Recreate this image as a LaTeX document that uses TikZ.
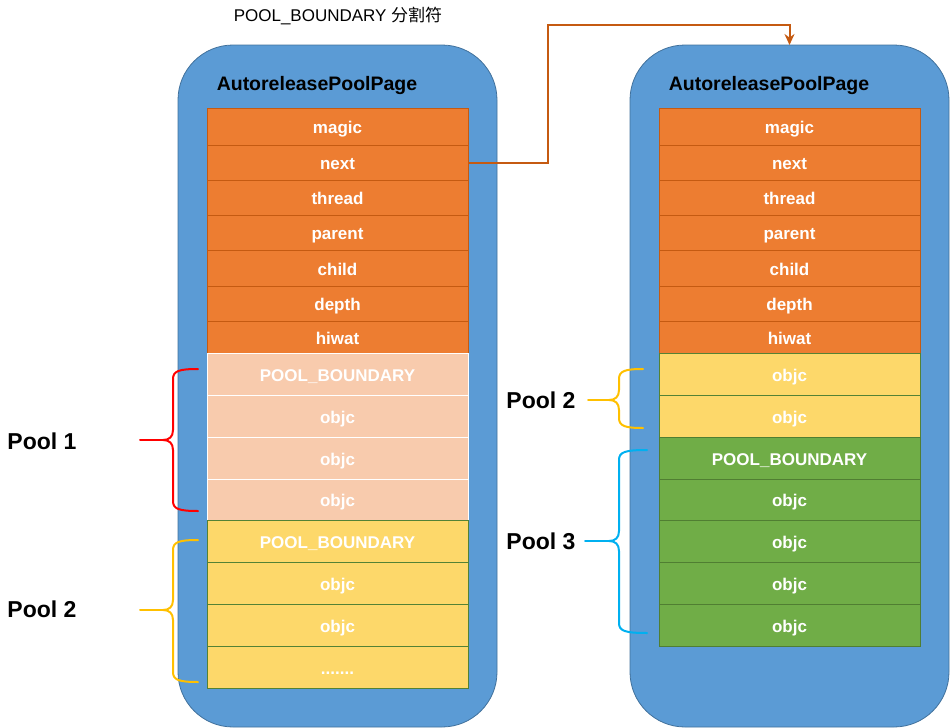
\documentclass[tikz,border=0pt]{standalone}
\usepackage{fontspec}
\setmainfont{Liberation Sans}
\newfontfamily\cjk{Noto Sans CJK SC}
\usetikzlibrary{arrows.meta,calc}
\definecolor{pageblue}{HTML}{5B9BD5}
\definecolor{pageedge}{HTML}{41719C}
\definecolor{corange}{HTML}{ED7D31}
\definecolor{corangeedge}{HTML}{C55A11}
\definecolor{cpeach}{HTML}{F8CBAD}
\definecolor{cyellow}{HTML}{FDD86A}
\definecolor{cyellowedge}{HTML}{548235}
\definecolor{cgreen}{HTML}{70AD47}
\definecolor{cgreenedge}{HTML}{507E32}
\definecolor{linkc}{HTML}{C55A11}
\definecolor{bred}{HTML}{FF0000}
\definecolor{byellow}{HTML}{FFC000}
\definecolor{bcyan}{HTML}{00B0F0}
\newcommand\mydots{.......}
\tikzset{
  page/.style={draw=pageedge,line width=0.8pt,fill=pageblue,rounded corners=55pt,minimum width=319pt,minimum height=682pt,inner sep=0pt,outer sep=0pt},
  cell/.style={minimum width=261pt,inner sep=0pt,outer sep=0pt,line width=0.8pt,text=white,text height=15.5pt,text depth=1.5pt,font=\fontsize{17}{20}\selectfont\bfseries},
  orangecell/.style={cell,fill=corange,draw=corangeedge},
  peachcell/.style={cell,fill=cpeach,draw=white},
  yellowcell/.style={cell,fill=cyellow,draw=cyellowedge},
  greencell/.style={cell,fill=cgreen,draw=cgreenedge},
  title/.style={font=\fontsize{19.5}{22}\selectfont\bfseries,inner sep=0pt},
  poollabel/.style={font=\fontsize{23}{26}\selectfont\bfseries,inner sep=0pt},
  brace/.style={line width=2pt,line cap=round,line join=round},
  link/.style={draw=linkc,line width=2pt,-{Stealth[length=11pt,width=10pt]}},
}
\newcommand\mybrace[7]{% color, xend, xv, top, mid, bot, xtip
  \draw[brace,#1] (#2,#4) .. controls (#3+6,#4) and (#3,#4+2) .. (#3,#4+10) -- (#3,#5-10)
    .. controls (#3,#5-3) and (#3-4,#5) .. (#3-10,#5)
    .. controls (#3-4,#5) and (#3,#5+3) .. (#3,#5+10) -- (#3,#6-10)
    .. controls (#3,#6-2) and (#3+6,#6) .. (#2,#6);
  \draw[brace,#1] (#7,#5) -- (#3-10,#5);
}
\begin{document}
\begin{tikzpicture}[x=1pt,y=-1pt]
\useasboundingbox (0,0) rectangle (951,728);
% pages
\node[page] (lpage) at (337.5,386) {};
\node[page] (rpage) at (789.5,386) {};
\node[title] (ltitle) at (317,85.5) {AutoreleasePoolPage};
\node[title] (rtitle) at (769,85.5) {AutoreleasePoolPage};
% top label
\node[inner sep=0pt,font=\fontsize{17}{20}\selectfont] (toplabel) at (338,16) {POOL\_BOUNDARY {\cjk 分割符}};
% left cells
\foreach \n/\t/\b/\s/\txt in {
  l1/108/145/orangecell/magic,
  l2/145/180/orangecell/next,
  l3/180/215/orangecell/thread,
  l4/215/250/orangecell/parent,
  l5/250/286/orangecell/child,
  l6/286/321/orangecell/depth,
  l7/321/353/orangecell/hiwat,
  l8/353/395/peachcell/POOL\_BOUNDARY,
  l9/395/437/peachcell/objc,
  l10/437/479/peachcell/objc,
  l11/479/520/peachcell/objc,
  l12/520/562/yellowcell/POOL\_BOUNDARY,
  l13/562/604/yellowcell/objc,
  l14/604/646/yellowcell/objc,
  l15/646/688/yellowcell/\mydots}
  {\node[\s,minimum height={(\b-\t)*1pt}] (\n) at (337.5,{(\t+\b)/2}) {\txt};}
% right cells
\foreach \n/\t/\b/\s/\txt in {
  r1/108/145/orangecell/magic,
  r2/145/180/orangecell/next,
  r3/180/215/orangecell/thread,
  r4/215/250/orangecell/parent,
  r5/250/286/orangecell/child,
  r6/286/321/orangecell/depth,
  r7/321/353/orangecell/hiwat,
  r8/353/395/yellowcell/objc,
  r9/395/437/yellowcell/objc,
  r10/437/479/greencell/POOL\_BOUNDARY,
  r11/479/520/greencell/objc,
  r12/520/562/greencell/objc,
  r13/562/604/greencell/objc,
  r14/604/646/greencell/objc}
  {\node[\s,minimum height={(\b-\t)*1pt}] (\n) at (789.5,{(\t+\b)/2}) {\txt};}
% link
\coordinate (bend) at (548,25);
\draw[link] (l2.east) -| (bend) -| (rpage.north);
% braces
\mybrace{bred}{198}{173}{369}{440}{511}{140}
\mybrace{byellow}{198}{173}{540}{610}{682}{140}
\mybrace{byellow}{643}{619}{369}{400}{428}{588}
\mybrace{bcyan}{647}{619}{450}{541}{633}{585}
\node[poollabel] (p1) at (42,441) {Pool 1};
\node[poollabel] (p2) at (42,609) {Pool 2};
\node[poollabel] (p2r) at (541,400) {Pool 2};
\node[poollabel] (p3) at (541,541) {Pool 3};
\end{tikzpicture}
\end{document}
